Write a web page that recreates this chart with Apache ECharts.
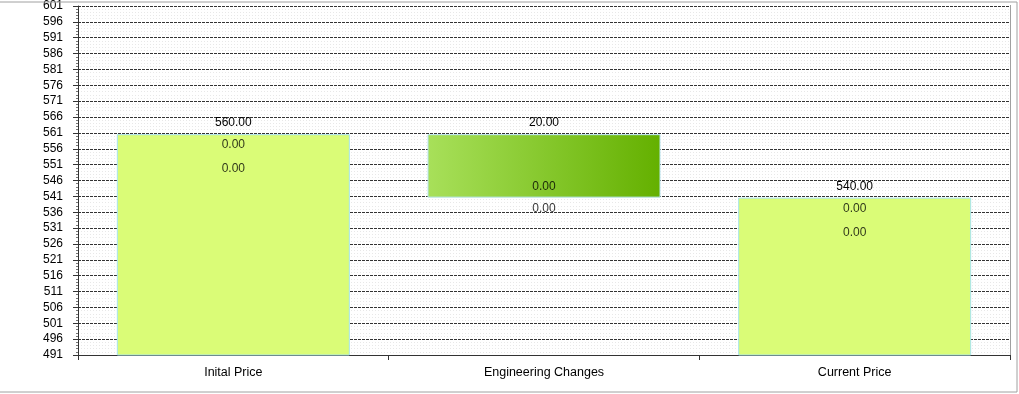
<!DOCTYPE html>
<html>
<head>
<meta charset="utf-8">
<script src="https://cdn.jsdelivr.net/npm/echarts@6/dist/echarts.min.js"></script>
<style>
html,body{margin:0;padding:0;background:#fff;}
#chart{width:1019px;height:394px;}
</style>
</head>
<body>
<div id="chart"></div>
<script>
const categories = ['Inital Price', 'Engineering Changes', 'Current Price'];
const totalValues = [560, '-', 540];
const changeBase = ['-', 540, '-'];
const changeValues = ['-', 20, '-'];
const zeroSeriesA = [0, 0, 0];
const zeroSeriesB = [0, 0, 0];
const yMin = 490.4, yMax = 600.4, yStep = 5;

const FONT = 'Liberation Sans, Arial, sans-serif';
const fmt = v => Number(v).toFixed(2);

// anchor of the zero-value labels: top of total bars, base of the change bar
const anchors = categories.map((c, i) => totalValues[i] !== '-' ? totalValues[i] : changeBase[i]);
const isChange = categories.map((c, i) => changeValues[i] !== '-');

function zeroLabelData(values, which) {
  return values.map((v, i) => {
    let position, distance;
    if (which === 'A') { position = isChange[i] ? 'top' : 'bottom'; distance = 5; }
    else { position = 'bottom'; distance = isChange[i] ? 5 : 29; }
    return {
      value: [i, anchors[i]],
      raw: v,
      label: { position: position, distance: distance }
    };
  });
}

const labelStyle = { show: true, color: '#000', fontSize: 12, fontFamily: FONT };

const chart = echarts.init(document.getElementById('chart'));
chart.setOption({
  animation: false,
  backgroundColor: '#fff',
  grid: { left: 78, right: 9, top: 5, bottom: 39 },
  xAxis: {
    type: 'category',
    data: categories,
    axisLine: { lineStyle: { color: '#333', width: 1 } },
    axisTick: { show: true, length: 5, lineStyle: { color: '#333' } },
    axisLabel: { color: '#000', fontSize: 12.5, fontFamily: FONT, margin: 11 },
    splitLine: { show: false }
  },
  yAxis: {
    type: 'value',
    min: yMin, max: yMax, interval: yStep,
    axisLine: { show: true, lineStyle: { color: '#333', width: 1 } },
    axisTick: { show: true, length: 5, lineStyle: { color: '#333' } },
    minorTick: { show: true, splitNumber: 5, length: 2, lineStyle: { color: '#777' } },
    axisLabel: { color: '#000', fontSize: 12, fontFamily: FONT, margin: 15, formatter: v => String(Math.ceil(v)) },
    splitLine: { show: true, lineStyle: { color: '#333', width: 1, type: [3, 1] } },
    minorSplitLine: { show: true, lineStyle: { color: '#e8e8e8', width: 1, type: [1, 2] } }
  },
  graphic: [
    { type: 'rect', shape: { x: -1, y: 2, width: 1018, height: 390 }, style: { fill: 'none', stroke: '#a0a0a0', lineWidth: 1 }, silent: true, z: 100 },
    { type: 'line', shape: { x1: 1010.5, y1: 5, x2: 1010.5, y2: 360 }, style: { stroke: '#a0a0a0', lineWidth: 1 }, silent: true }
  ],
  series: [
    {
      name: 'Base', type: 'bar', stack: 'w', barWidth: '75%',
      data: changeBase,
      itemStyle: { color: 'rgba(0,0,0,0)' },
      silent: true
    },
    {
      name: 'Total', type: 'bar', stack: 'w', barWidth: '75%',
      data: totalValues,
      itemStyle: { color: '#dafc77', borderColor: '#a8e4ec', borderWidth: 1 },
      label: Object.assign({}, labelStyle, { position: 'top', distance: 5, formatter: p => fmt(p.value) })
    },
    {
      name: 'Change', type: 'bar', stack: 'w', barWidth: '75%',
      data: changeValues,
      itemStyle: {
        color: new echarts.graphic.LinearGradient(0, 0, 1, 0, [
          { offset: 0, color: '#a8e05a' },
          { offset: 1, color: '#64b000' }
        ]),
        borderColor: '#b8e4f0', borderWidth: 1
      },
      label: Object.assign({}, labelStyle, { position: 'top', distance: 5, formatter: p => fmt(p.value) })
    },
    {
      name: 'Zero A', type: 'scatter', symbolSize: 0,
      data: zeroLabelData(zeroSeriesA, 'A'),
      label: Object.assign({}, labelStyle, { formatter: p => fmt(p.data.raw) }),
      silent: true
    },
    {
      name: 'Zero B', type: 'scatter', symbolSize: 0,
      data: zeroLabelData(zeroSeriesB, 'B'),
      label: Object.assign({}, labelStyle, { formatter: p => fmt(p.data.raw) }),
      silent: true
    }
  ]
});
</script>
</body>
</html>
